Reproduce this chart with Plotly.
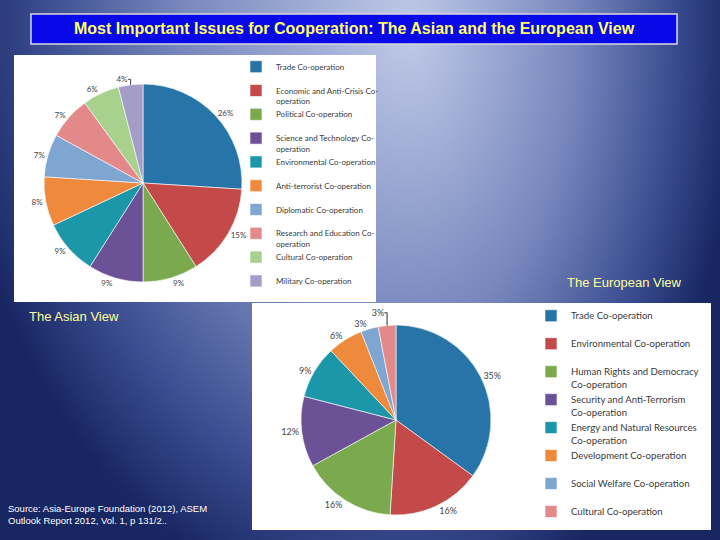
import base64, struct, zlib
import numpy as np
import plotly.graph_objects as go

# ---------------- data ----------------
asia_labels = ["Trade Co-operation",
               "Economic and Anti-Crisis Co-<br>operation",
               "Political Co-operation",
               "Science and Technology Co-<br>operation",
               "Environmental Co-operation",
               "Anti-terrorist Co-operation",
               "Diplomatic Co-operation",
               "Research and Education Co-<br>operation",
               "Cultural Co-operation",
               "Military Co-operation"]
asia_values = [26, 15, 9, 9, 9, 8, 7, 7, 6, 4]
asia_colors = ["#2674A8", "#C34A49", "#7BAA4E", "#6B5196", "#1C97AA",
               "#EF8A3C", "#7EA6D0", "#E4898A", "#A9D18E", "#A49DC8"]

europe_labels = ["Trade Co-operation",
                 "Environmental Co-operation",
                 "Human Rights and Democracy<br>Co-operation",
                 "Security and Anti-Terrorism<br>Co-operation",
                 "Energy and Natural Resources<br>Co-operation",
                 "Development Co-operation",
                 "Social Welfare Co-operation",
                 "Cultural Co-operation"]
europe_values = [35, 16, 16, 12, 9, 6, 3, 3]
europe_colors = ["#2674A8", "#C34A49", "#7BAA4E", "#6B5196", "#1C97AA",
                 "#EF8A3C", "#7EA6D0", "#E4898A"]

title_text = "Most Important Issues for Cooperation: The Asian and the European View"
asia_caption = "The Asian View"
europe_caption = "The European View"
source_text = "Source: Asia-Europe Foundation (2012), ASEM<br>Outlook Report 2012, Vol. 1, p 131/2.."

W, H = 720, 540


def two_line(lbls, filler):
    # every legend entry takes two lines (as in the original layout);
    # the filler keeps the two pies' legend entries distinct
    return [l if "<br>" in l else l + "<br>" + filler for l in lbls]


# ---------------- background gradient image ----------------
def make_png(arr):
    h, w, _ = arr.shape
    raw = b"".join(b"\x00" + arr[r].tobytes() for r in range(h))

    def chunk(t, d):
        c = struct.pack(">I", len(d)) + t + d
        return c + struct.pack(">I", zlib.crc32(t + d) & 0xFFFFFFFF)

    return (b"\x89PNG\r\n\x1a\n"
            + chunk(b"IHDR", struct.pack(">IIBBBBB", w, h, 8, 2, 0, 0, 0))
            + chunk(b"IDAT", zlib.compress(raw, 9))
            + chunk(b"IEND", b""))


step = 4
ys, xs = np.mgrid[0:H:step, 0:W:step].astype(float) + step / 2
cx, cy = 410.0, 30.0
rx = np.where(xs > cx, 330.0, 460.0)
t = np.clip(np.sqrt(((xs - cx) / rx) ** 2 + ((ys - cy) / 600.0) ** 2), 0, 1)
stops_t = [0.0, 0.5, 0.8, 1.0]
stops_c = np.array([[192, 202, 232], [120, 136, 190], [60, 78, 145], [24, 38, 98]], float)
img = np.zeros(t.shape + (3,), float)
for ch in range(3):
    img[..., ch] = np.interp(t, stops_t, stops_c[:, ch])
img = img.astype(np.uint8)
bg_uri = "data:image/png;base64," + base64.b64encode(make_png(img)).decode()


def px(x):
    return x / W


def py(y):
    return 1 - y / H


# ---------------- figure ----------------
fig = go.Figure()

fig.add_trace(go.Pie(
    labels=two_line(asia_labels, "\u00a0"), values=asia_values, sort=False,
    direction="clockwise",
    rotation=0, marker=dict(colors=asia_colors, line=dict(color="white", width=0.6)),
    textinfo="percent", texttemplate="%{value}%", textposition="outside",
    textfont=dict(family="Lato", size=8, color="#444444"),
    domain=dict(x=[px(44), px(242)], y=[py(283), py(83)]),
    legend="legend", hoverinfo="label+value",
))

fig.add_trace(go.Pie(
    labels=two_line(europe_labels, "\u00a0\u00a0"), values=europe_values, sort=False,
    direction="clockwise",
    rotation=0, marker=dict(colors=europe_colors, line=dict(color="white", width=0.6)),
    textinfo="percent", texttemplate="%{value}%", textposition="outside",
    textfont=dict(family="Lato", size=9, color="#444444"),
    domain=dict(x=[px(301), px(491)], y=[py(515), py(325)]),
    legend="legend2", hoverinfo="label+value",
))

shapes = [
    # Asian panel
    dict(type="rect", xref="paper", yref="paper", x0=px(14), x1=px(376), y0=py(302), y1=py(55),
         fillcolor="white", line=dict(width=0), layer="below"),
    # European panel
    dict(type="rect", xref="paper", yref="paper", x0=px(252), x1=px(711), y0=py(530), y1=py(303),
         fillcolor="white", line=dict(width=0), layer="below"),
    # title box
    dict(type="rect", xref="paper", yref="paper", x0=px(31), x1=px(677), y0=py(44), y1=py(14),
         fillcolor="#0808E8", line=dict(color="#D8D8E0", width=1.5), layer="below"),
]

annotations = [
    dict(text="<b>" + title_text + "</b>", x=px(354), y=py(29), xref="paper", yref="paper",
         showarrow=False, xanchor="center", yanchor="middle",
         font=dict(family="Liberation Sans", size=16, color="#FFFF66")),
    dict(text=asia_caption, x=px(27), y=py(316), xref="paper", yref="paper",
         showarrow=False, xanchor="left", yanchor="middle",
         font=dict(family="Liberation Sans", size=13, color="#FFFF99")),
    dict(text=europe_caption, x=px(565), y=py(282), xref="paper", yref="paper",
         showarrow=False, xanchor="left", yanchor="middle",
         font=dict(family="Liberation Sans", size=13, color="#FFFF99")),
    dict(text=source_text, x=px(6), y=py(514), xref="paper", yref="paper",
         showarrow=False, xanchor="left", yanchor="middle", align="left",
         font=dict(family="Liberation Sans", size=9.5, color="white")),
]

fig.update_layout(
    width=W, height=H, autosize=False,
    margin=dict(l=0, r=0, t=0, b=0),
    paper_bgcolor="#1E2F70", plot_bgcolor="rgba(0,0,0,0)",
    images=[dict(source=bg_uri, xref="paper", yref="paper", x=0, y=1, sizex=1, sizey=1,
                 sizing="stretch", layer="below", xanchor="left", yanchor="top")],
    shapes=shapes, annotations=annotations,
    legend=dict(x=px(236), y=py(55), xanchor="left", yanchor="top", valign="top",
                itemwidth=30, maxheight=500,
                bgcolor="rgba(0,0,0,0)", font=dict(family="Lato", size=8, color="#3A3A3A"),
                itemclick=False, itemdoubleclick=False, tracegroupgap=0),
    legend2=dict(x=px(531), y=py(303), xanchor="left", yanchor="top", valign="top",
                 itemwidth=30, maxheight=500,
                 bgcolor="rgba(0,0,0,0)", font=dict(family="Lato", size=9.6, color="#3A3A3A"),
                 itemclick=False, itemdoubleclick=False, tracegroupgap=0),
    showlegend=True,
)

fig.write_html("out.html", config={"displayModeBar": False},
               post_script="document.body.style.margin='0';document.body.style.overflow='hidden';")
